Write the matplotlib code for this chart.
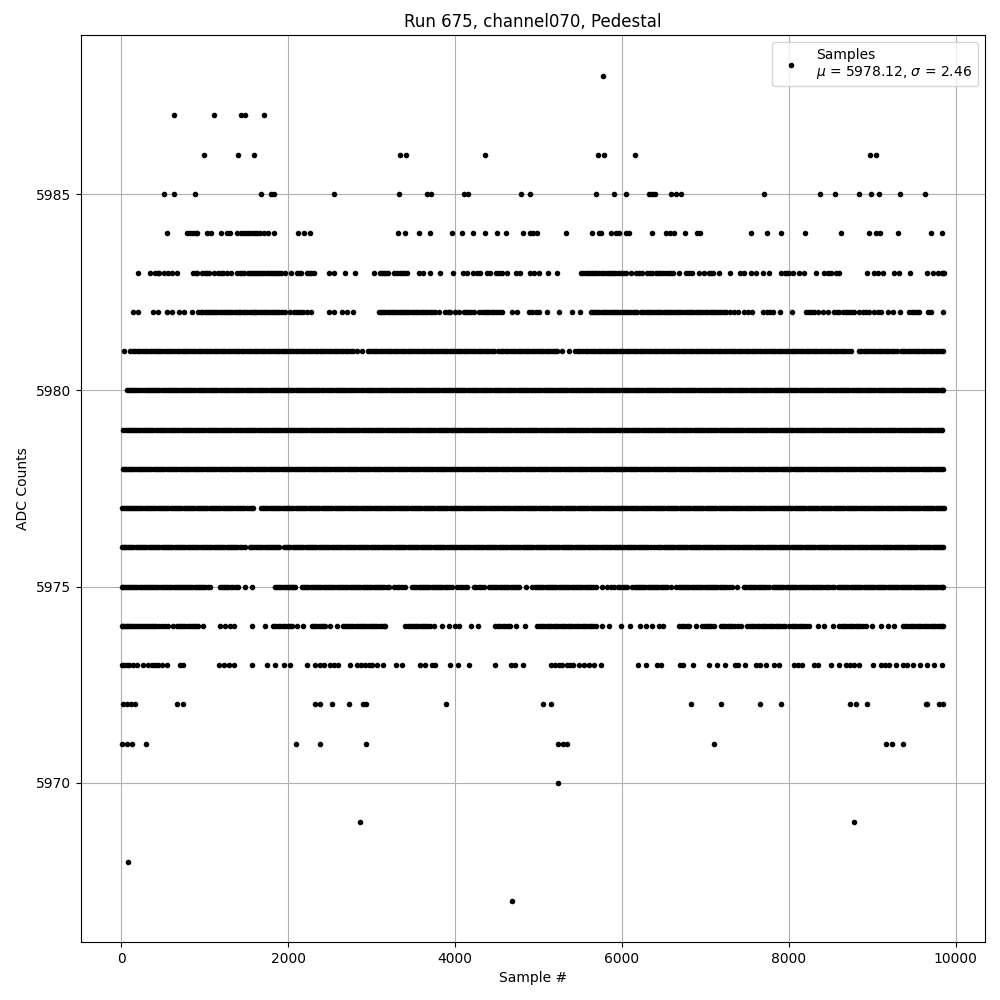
#!/usr/bin/env python3
"""Pedestal scatter for run 675, channel070. Sample numbers read off the plot, one list per ADC level."""
import matplotlib
matplotlib.use("Agg")
import matplotlib.pyplot as plt

s_5988 = [5772]
s_5987 = [636, 1116, 1432, 1476, 1704]
s_5986 = [996, 1404, 1584, 3336, 3408, 4356, 5712, 5784, 6156, 8976, 9048]
s_5985 = [516, 636, 884, 1668, 1788, 1824, 2544, 3324, 3664, 3712, 4104, 4152, 4788, 4896,
          5688, 5904, 6048, 6324, 6364, 6400, 6588, 6648, 6708, 7704, 8376, 8556, 8844,
          8988, 9084, 9336, 9636]
s_5984 = [552, 792, 824, 864, 890, 912, 1024, 1072, 1200, 1272, 1300, 1392, 1432, 1472, 1500, 1524,
          1564, 1600, 1624, 1664, 1704, 1752, 1832, 2112, 2184, 2264, 3312, 3396, 3564, 3696,
          3960, 4080, 4212, 4356, 4504, 4608, 4812, 4896, 4936, 4984, 5328, 5640, 5724, 5752,
          5868, 5928, 5964, 6048, 6084, 6360, 6528, 6576, 6624, 6756, 6904, 6936, 7548, 7740,
          7908, 8196, 8628, 8964, 9048, 9096, 9312, 9708, 9840]
s_5983 = [204, 348, 408, 440, 456, 516, 564, 612, 664, 864, 890, 912, 964, 1004, 1030, 1056, 1112,
          1164, 1190, 1216, 1264, 1312, 1392, 1420, 1450, 1472, 1512, 1540, 1564, 1590, 1616,
          1640, 1664, 1690, 1712, 1740, 1764, 1790, 1816, 1840, 1864, 1890, 1912, 1964, 2036,
          2104, 2128, 2152, 2224, 2250, 2272, 2304, 2484, 2544, 2676, 2796, 3024, 3096, 3120, 3144,
          3170, 3192, 3264, 3300, 3336, 3360, 3384, 3424, 3564, 3616, 3696, 3816, 3972, 4092,
          4144, 4216, 4264, 4296, 4384, 4424, 4488, 4530, 4564, 4624, 4724, 4776, 4896, 4944,
          5004, 5112, 5220, 5504, 5534, 5564, 5590, 5616, 5640, 5664, 5690, 5724, 5764, 5790, 5816,
          5840, 5864, 5890, 5912, 5952, 5984, 6014, 6044, 6104, 6164, 6200, 6244, 6304, 6334,
          6364, 6404, 6430, 6456, 6490, 6524, 6564, 6590, 6616, 6684, 6764, 6800, 6844, 6924,
          6984, 7044, 7070, 7096, 7164, 7296, 7416, 7464, 7544, 7604, 7684, 7764, 7904, 7952,
          7980, 8004, 8044, 8124, 8176, 8328, 8416, 8464, 8504, 8564, 8604, 8940, 9024, 9072,
          9124, 9256, 9324, 9456, 9652, 9724, 9784, 9835, 9850, 9858]
s_5982 = [144, 204, 384, 444, 552, 612, 696, 752, 844, 924, 950, 972, 1000, 1028, 1050, 1076, 1100,
          1124, 1152, 1180, 1205, 1232, 1255, 1276, 1304, 1330, 1357, 1384, 1405, 1428, 1455,
          1480, 1510, 1536, 1560, 1584, 1605, 1630, 1660, 1688, 1712, 1736, 1762, 1788, 1816,
          1844, 1868, 1892, 1930, 1964, 2024, 2064, 2104, 2140, 2176, 2224, 2276, 2492, 2552,
          2644, 2704, 2772, 3084, 3110, 3136, 3164, 3192, 3216, 3240, 3268, 3296, 3322, 3348,
          3376, 3404, 3428, 3452, 3480, 3510, 3535, 3560, 3588, 3616, 3642, 3668, 3696, 3724,
          3764, 3812, 3884, 3914, 3944, 4004, 4044, 4104, 4132, 4160, 4192, 4224, 4284, 4324,
          4354, 4384, 4412, 4440, 4472, 4504, 4534, 4564, 4684, 4744, 4884, 4924, 4964, 5004,
          5104, 5244, 5404, 5496, 5624, 5652, 5680, 5704, 5728, 5756, 5784, 5810, 5836, 5864,
          5892, 5916, 5940, 5970, 6000, 6024, 6048, 6074, 6100, 6126, 6152, 6184, 6224, 6254,
          6284, 6308, 6332, 6362, 6392, 6416, 6440, 6470, 6500, 6524, 6548, 6576, 6604, 6630,
          6656, 6680, 6704, 6744, 6774, 6804, 6828, 6852, 6882, 6912, 6938, 6964, 6994, 7024,
          7050, 7076, 7104, 7132, 7162, 7192, 7218, 7244, 7296, 7344, 7392, 7464, 7514, 7564,
          7684, 7736, 7770, 7804, 7896, 8032, 8204, 8236, 8268, 8306, 8344, 8404, 8464, 8544,
          8572, 8600, 8644, 8684, 8712, 8740, 8784, 8844, 8884, 8924, 8964, 9024, 9064, 9104,
          9184, 9244, 9336, 9444, 9474, 9504, 9534, 9564, 9664, 9704, 9852]
s_5981 = [32, 104, 134, 168, 198, 228, 256, 284, 312, 340, 370, 400, 426, 452, 480, 508, 544,
          576, 600, 628, 662, 696, 722, 748, 776, 804, 832, 860, 888, 916, 944, 972, 998, 1024,
          1052, 1080, 1108, 1136, 1164, 1192, 1220, 1248, 1276, 1304, 1332, 1360, 1388, 1416,
          1444, 1472, 1500, 1528, 1556, 1584, 1612, 1640, 1668, 1696, 1724, 1752, 1780, 1808,
          1836, 1864, 1892, 1920, 1948, 1976, 2004, 2032, 2060, 2088, 2118, 2148, 2176, 2204,
          2232, 2260, 2288, 2316, 2346, 2376, 2404, 2432, 2460, 2488, 2516, 2544, 2572, 2600,
          2630, 2660, 2688, 2716, 2748, 2780, 2830, 2880, 2960, 2986, 3012, 3040, 3068, 3096,
          3124, 3152, 3180, 3208, 3236, 3264, 3292, 3320, 3348, 3376, 3404, 3432, 3460, 3488,
          3516, 3544, 3572, 3600, 3628, 3656, 3684, 3712, 3740, 3768, 3796, 3824, 3852, 3880,
          3908, 3936, 3964, 3992, 4020, 4048, 4076, 4104, 4132, 4160, 4188, 4216, 4244, 4272,
          4300, 4328, 4356, 4384, 4412, 4440, 4468, 4510, 4548, 4578, 4610, 4638, 4666, 4694,
          4722, 4750, 4778, 4806, 4834, 4862, 4890, 4918, 4946, 4974, 5002, 5030, 5058, 5086,
          5114, 5142, 5170, 5198, 5226, 5284, 5364, 5436, 5470, 5500, 5532, 5564, 5594, 5624,
          5652, 5680, 5708, 5736, 5764, 5792, 5820, 5848, 5876, 5904, 5932, 5960, 5988, 6016,
          6044, 6072, 6100, 6128, 6156, 6184, 6212, 6240, 6268, 6296, 6324, 6352, 6380, 6408,
          6436, 6464, 6492, 6520, 6548, 6576, 6604, 6632, 6660, 6688, 6716, 6744, 6772, 6800,
          6828, 6856, 6884, 6912, 6940, 6968, 6996, 7024, 7052, 7080, 7108, 7136, 7164, 7192,
          7220, 7248, 7276, 7304, 7332, 7360, 7388, 7416, 7444, 7472, 7500, 7528, 7556, 7584,
          7612, 7640, 7668, 7696, 7724, 7752, 7780, 7808, 7836, 7864, 7892, 7920, 7948, 7976,
          8004, 8032, 8060, 8088, 8116, 8144, 8172, 8200, 8228, 8256, 8284, 8312, 8340, 8368,
          8396, 8424, 8452, 8480, 8508, 8536, 8564, 8592, 8620, 8648, 8676, 8704, 8744, 8840,
          8868, 8896, 8924, 8952, 8980, 9008, 9036, 9064, 9092, 9120, 9148, 9176, 9204, 9232,
          9264, 9300, 9340, 9368, 9396, 9424, 9452, 9480, 9508, 9536, 9564, 9592, 9620, 9648,
          9676, 9704, 9732, 9760, 9788, 9820, 9850]
s_5980 = [72, 96, 116, 138, 160, 188, 216, 248, 280, 306, 332, 356, 380, 404, 428, 456, 484, 508,
          532, 558, 584, 608, 632, 658, 684, 710, 736, 762, 788, 814, 840, 864, 888, 916, 944,
          968, 992, 1020, 1048, 1072, 1096, 1124, 1152, 1178, 1204, 1230, 1256, 1282, 1308,
          1334, 1360, 1386, 1412, 1438, 1464, 1490, 1516, 1542, 1568, 1594, 1620, 1646, 1672,
          1698, 1724, 1750, 1776, 1802, 1828, 1854, 1880, 1906, 1932, 1958, 1984, 2010, 2036,
          2062, 2088, 2114, 2140, 2166, 2192, 2218, 2244, 2270, 2296, 2322, 2348, 2374, 2400,
          2426, 2462, 2490, 2516, 2542, 2568, 2594, 2620, 2646, 2672, 2698, 2724, 2750, 2776,
          2802, 2840, 2874, 2902, 2928, 2954, 2980, 3006, 3032, 3058, 3084, 3110, 3136, 3162,
          3188, 3214, 3240, 3266, 3292, 3318, 3344, 3370, 3396, 3422, 3448, 3474, 3500, 3526,
          3552, 3578, 3604, 3630, 3656, 3682, 3708, 3734, 3760, 3786, 3812, 3838, 3864, 3890,
          3916, 3942, 3968, 3994, 4020, 4046, 4072, 4098, 4124, 4150, 4176, 4202, 4228, 4254,
          4280, 4306, 4332, 4358, 4384, 4410, 4436, 4462, 4488, 4514, 4540, 4566, 4592, 4618,
          4644, 4670, 4696, 4722, 4748, 4774, 4800, 4826, 4852, 4878, 4904, 4930, 4956, 4982,
          5008, 5034, 5060, 5086, 5112, 5138, 5164, 5190, 5216, 5242, 5268, 5294, 5320, 5346,
          5372, 5398, 5424, 5450, 5476, 5502, 5528, 5554, 5580, 5606, 5632, 5658, 5684, 5710,
          5736, 5762, 5788, 5814, 5840, 5866, 5892, 5918, 5944, 5970, 5996, 6022, 6048, 6074,
          6100, 6126, 6152, 6178, 6204, 6230, 6256, 6282, 6308, 6334, 6360, 6386, 6412, 6438,
          6464, 6490, 6516, 6542, 6568, 6594, 6620, 6646, 6672, 6698, 6724, 6750, 6776, 6802,
          6828, 6854, 6880, 6906, 6932, 6958, 6984, 7010, 7036, 7062, 7088, 7114, 7140, 7166,
          7192, 7218, 7244, 7270, 7296, 7322, 7348, 7374, 7400, 7426, 7452, 7478, 7504, 7530,
          7556, 7582, 7608, 7634, 7660, 7686, 7712, 7738, 7764, 7790, 7816, 7842, 7868, 7894,
          7920, 7946, 7972, 7998, 8024, 8050, 8076, 8102, 8128, 8154, 8180, 8206, 8232, 8258,
          8284, 8310, 8336, 8362, 8388, 8414, 8440, 8466, 8492, 8518, 8544, 8570, 8596, 8622,
          8648, 8674, 8700, 8726, 8752, 8778, 8804, 8830, 8856, 8882, 8908, 8934, 8960, 8986,
          9012, 9038, 9064, 9090, 9116, 9142, 9168, 9194, 9220, 9246, 9272, 9298, 9324, 9350,
          9376, 9402, 9428, 9454, 9480, 9506, 9532, 9558, 9584, 9610, 9636, 9662, 9688, 9714,
          9740, 9766, 9792, 9818, 9840, 9852]
s_5979 = [24, 50, 76, 100, 124, 150, 176, 202, 228, 254, 280, 306, 332, 358, 384, 410, 436, 462,
          488, 514, 540, 566, 592, 618, 644, 670, 696, 722, 748, 774, 800, 826, 852, 878, 904,
          930, 956, 982, 1008, 1034, 1060, 1086, 1112, 1138, 1164, 1190, 1216, 1242, 1268, 1294,
          1320, 1346, 1372, 1398, 1424, 1450, 1476, 1502, 1528, 1554, 1580, 1606, 1632, 1658,
          1684, 1710, 1736, 1762, 1788, 1814, 1840, 1866, 1892, 1918, 1944, 1970, 1996, 2022,
          2048, 2074, 2100, 2126, 2152, 2178, 2204, 2230, 2256, 2282, 2308, 2334, 2360, 2386,
          2412, 2438, 2464, 2490, 2516, 2542, 2568, 2594, 2620, 2646, 2672, 2698, 2724, 2750,
          2776, 2802, 2828, 2854, 2880, 2906, 2932, 2958, 2984, 3010, 3036, 3062, 3088, 3114,
          3140, 3166, 3192, 3218, 3244, 3270, 3296, 3322, 3348, 3374, 3400, 3426, 3452, 3478,
          3504, 3530, 3556, 3582, 3608, 3634, 3660, 3686, 3712, 3738, 3764, 3790, 3816, 3842,
          3868, 3894, 3920, 3946, 3972, 3998, 4024, 4050, 4076, 4102, 4128, 4154, 4180, 4206,
          4232, 4258, 4284, 4310, 4336, 4362, 4388, 4414, 4440, 4466, 4492, 4518, 4544, 4570,
          4596, 4622, 4648, 4674, 4700, 4726, 4752, 4778, 4804, 4830, 4856, 4882, 4908, 4934,
          4960, 4986, 5012, 5038, 5064, 5090, 5116, 5142, 5168, 5194, 5220, 5246, 5272, 5298,
          5324, 5350, 5376, 5402, 5428, 5454, 5480, 5506, 5532, 5558, 5584, 5610, 5636, 5662,
          5688, 5714, 5740, 5766, 5792, 5818, 5844, 5870, 5896, 5922, 5948, 5974, 6000, 6026,
          6052, 6078, 6104, 6130, 6156, 6182, 6208, 6234, 6260, 6286, 6312, 6338, 6364, 6390,
          6416, 6442, 6468, 6494, 6520, 6546, 6572, 6598, 6624, 6650, 6676, 6702, 6728, 6754,
          6780, 6806, 6832, 6858, 6884, 6910, 6936, 6962, 6988, 7014, 7040, 7066, 7092, 7118,
          7144, 7170, 7196, 7222, 7248, 7274, 7300, 7326, 7352, 7378, 7404, 7430, 7456, 7482,
          7508, 7534, 7560, 7586, 7612, 7638, 7664, 7690, 7716, 7742, 7768, 7794, 7820, 7846,
          7872, 7898, 7924, 7950, 7976, 8002, 8028, 8054, 8080, 8106, 8132, 8158, 8184, 8210,
          8236, 8262, 8288, 8314, 8340, 8366, 8392, 8418, 8444, 8470, 8496, 8522, 8548, 8574,
          8600, 8626, 8652, 8678, 8704, 8730, 8756, 8782, 8808, 8834, 8860, 8886, 8912, 8938,
          8964, 8990, 9016, 9042, 9068, 9094, 9120, 9146, 9172, 9198, 9224, 9250, 9276, 9302,
          9328, 9354, 9380, 9406, 9432, 9458, 9484, 9510, 9536, 9562, 9588, 9614, 9640, 9666,
          9692, 9718, 9744, 9770, 9796, 9820, 9840]
s_5978 = [16, 38, 60, 84, 108, 132, 156, 182, 208, 232, 256, 282, 308, 334, 360, 386, 412, 438,
          464, 490, 516, 542, 568, 594, 620, 646, 672, 698, 724, 750, 776, 802, 828, 854, 880,
          906, 932, 958, 984, 1010, 1036, 1062, 1088, 1114, 1140, 1166, 1192, 1218, 1244, 1270,
          1296, 1322, 1348, 1374, 1400, 1426, 1452, 1478, 1504, 1530, 1556, 1582, 1608, 1634,
          1660, 1686, 1712, 1738, 1764, 1790, 1816, 1842, 1868, 1894, 1920, 1946, 1972, 1998,
          2024, 2050, 2076, 2102, 2128, 2154, 2180, 2206, 2232, 2258, 2284, 2310, 2336, 2362,
          2388, 2414, 2440, 2466, 2492, 2518, 2544, 2570, 2596, 2622, 2648, 2674, 2700, 2726,
          2752, 2778, 2804, 2830, 2856, 2882, 2908, 2934, 2960, 2986, 3012, 3038, 3064, 3090,
          3116, 3142, 3168, 3194, 3220, 3246, 3272, 3298, 3324, 3350, 3376, 3402, 3428, 3454,
          3480, 3506, 3532, 3558, 3584, 3610, 3636, 3662, 3688, 3714, 3740, 3766, 3792, 3818,
          3844, 3870, 3896, 3922, 3948, 3974, 4000, 4026, 4052, 4078, 4104, 4130, 4156, 4182,
          4208, 4234, 4260, 4286, 4312, 4338, 4364, 4390, 4416, 4442, 4468, 4494, 4520, 4546,
          4572, 4598, 4624, 4650, 4676, 4702, 4728, 4754, 4780, 4806, 4832, 4858, 4884, 4910,
          4936, 4962, 4988, 5014, 5040, 5066, 5092, 5118, 5144, 5170, 5196, 5222, 5248, 5274,
          5300, 5326, 5352, 5378, 5404, 5430, 5456, 5482, 5508, 5534, 5560, 5586, 5612, 5638,
          5664, 5690, 5716, 5742, 5768, 5794, 5820, 5846, 5872, 5898, 5924, 5950, 5976, 6002,
          6028, 6054, 6080, 6106, 6132, 6158, 6184, 6210, 6236, 6262, 6288, 6314, 6340, 6366,
          6392, 6418, 6444, 6470, 6496, 6522, 6548, 6574, 6600, 6626, 6652, 6678, 6704, 6730,
          6756, 6782, 6808, 6834, 6860, 6886, 6912, 6938, 6964, 6990, 7016, 7042, 7068, 7094,
          7120, 7146, 7172, 7198, 7224, 7250, 7276, 7302, 7328, 7354, 7380, 7406, 7432, 7458,
          7484, 7510, 7536, 7562, 7588, 7614, 7640, 7666, 7692, 7718, 7744, 7770, 7796, 7822,
          7848, 7874, 7900, 7926, 7952, 7978, 8004, 8030, 8056, 8082, 8108, 8134, 8160, 8186,
          8212, 8238, 8264, 8290, 8316, 8342, 8368, 8394, 8420, 8446, 8472, 8498, 8524, 8550,
          8576, 8602, 8628, 8654, 8680, 8706, 8732, 8758, 8784, 8810, 8836, 8862, 8888, 8914,
          8940, 8966, 8992, 9018, 9044, 9070, 9096, 9122, 9148, 9174, 9200, 9226, 9252, 9278,
          9304, 9330, 9356, 9382, 9408, 9434, 9460, 9486, 9512, 9538, 9564, 9590, 9616, 9642,
          9668, 9694, 9720, 9746, 9772, 9798, 9824, 9850]
s_5977 = [10, 30, 52, 76, 100, 124, 148, 174, 200, 226, 252, 278, 304, 330, 356, 382, 408, 434,
          460, 486, 512, 538, 564, 590, 616, 642, 668, 694, 720, 746, 772, 798, 824, 850, 876,
          902, 928, 954, 980, 1006, 1032, 1058, 1084, 1110, 1136, 1162, 1188, 1214, 1240, 1266,
          1292, 1318, 1344, 1370, 1396, 1422, 1448, 1474, 1500, 1524, 1548, 1576, 1672, 1698,
          1724, 1750, 1776, 1802, 1828, 1854, 1880, 1906, 1932, 1958, 1984, 2010, 2036, 2062,
          2088, 2114, 2140, 2166, 2192, 2218, 2244, 2270, 2296, 2322, 2348, 2374, 2400, 2426,
          2452, 2478, 2504, 2530, 2556, 2582, 2608, 2634, 2660, 2686, 2712, 2738, 2764, 2790,
          2816, 2842, 2868, 2894, 2920, 2946, 2972, 2998, 3024, 3050, 3076, 3102, 3128, 3154,
          3180, 3206, 3232, 3258, 3284, 3310, 3336, 3362, 3388, 3414, 3440, 3466, 3492, 3518,
          3544, 3570, 3596, 3622, 3648, 3674, 3700, 3726, 3752, 3778, 3804, 3830, 3856, 3882,
          3908, 3934, 3960, 3986, 4012, 4038, 4064, 4090, 4116, 4142, 4168, 4194, 4220, 4246,
          4272, 4298, 4324, 4350, 4376, 4402, 4428, 4454, 4480, 4506, 4532, 4558, 4584, 4610,
          4636, 4662, 4688, 4714, 4740, 4766, 4792, 4818, 4844, 4870, 4896, 4922, 4948, 4974,
          5000, 5026, 5052, 5078, 5104, 5130, 5156, 5182, 5208, 5234, 5260, 5286, 5312, 5338,
          5364, 5390, 5416, 5442, 5468, 5494, 5520, 5546, 5572, 5598, 5624, 5650, 5676, 5702,
          5728, 5754, 5780, 5806, 5832, 5858, 5884, 5910, 5936, 5962, 5988, 6014, 6040, 6066,
          6092, 6118, 6144, 6170, 6196, 6222, 6248, 6274, 6300, 6326, 6352, 6378, 6404, 6430,
          6456, 6482, 6508, 6534, 6560, 6586, 6612, 6638, 6664, 6690, 6716, 6742, 6768, 6794,
          6820, 6846, 6872, 6898, 6924, 6950, 6976, 7002, 7028, 7054, 7080, 7106, 7132, 7158,
          7184, 7210, 7236, 7262, 7288, 7314, 7340, 7366, 7392, 7418, 7444, 7470, 7496, 7522,
          7548, 7574, 7600, 7626, 7652, 7678, 7704, 7730, 7756, 7782, 7808, 7834, 7860, 7886,
          7912, 7938, 7964, 7990, 8016, 8042, 8068, 8094, 8120, 8146, 8172, 8198, 8224, 8250,
          8276, 8302, 8328, 8354, 8380, 8406, 8432, 8458, 8484, 8510, 8536, 8562, 8588, 8614,
          8640, 8666, 8692, 8718, 8744, 8770, 8796, 8822, 8848, 8874, 8900, 8926, 8952, 8978,
          9004, 9030, 9056, 9082, 9108, 9134, 9160, 9186, 9212, 9238, 9264, 9290, 9316, 9342,
          9368, 9394, 9420, 9446, 9472, 9498, 9524, 9550, 9576, 9602, 9628, 9654, 9680, 9706,
          9732, 9758, 9784, 9810, 9836, 9858]
s_5976 = [9, 26, 48, 72, 96, 120, 144, 170, 196, 222, 248, 274, 300, 326, 352, 378, 404, 430,
          456, 482, 508, 534, 560, 586, 612, 638, 664, 690, 716, 742, 768, 794, 820, 846, 872,
          898, 924, 950, 976, 1002, 1028, 1054, 1080, 1106, 1132, 1158, 1184, 1210, 1236, 1262,
          1288, 1314, 1340, 1366, 1392, 1418, 1444, 1484, 1540, 1564, 1588, 1612, 1636, 1660,
          1688, 1716, 1740, 1764, 1788, 1812, 1836, 1860, 1884, 1948, 1974, 2000, 2026, 2052,
          2078, 2104, 2130, 2156, 2182, 2208, 2234, 2260, 2286, 2312, 2338, 2364, 2390, 2416,
          2442, 2468, 2494, 2520, 2546, 2572, 2598, 2624, 2650, 2676, 2702, 2728, 2754, 2780,
          2806, 2832, 2858, 2884, 2910, 2936, 2962, 2988, 3014, 3040, 3066, 3092, 3118, 3144,
          3170, 3196, 3222, 3248, 3274, 3300, 3326, 3352, 3378, 3404, 3430, 3456, 3482, 3508,
          3534, 3560, 3586, 3612, 3638, 3664, 3690, 3716, 3742, 3768, 3794, 3820, 3846, 3872,
          3898, 3924, 3950, 3976, 4002, 4028, 4054, 4080, 4106, 4132, 4158, 4184, 4210, 4236,
          4262, 4288, 4314, 4340, 4366, 4392, 4418, 4444, 4470, 4496, 4522, 4548, 4574, 4600,
          4626, 4652, 4678, 4704, 4730, 4756, 4782, 4808, 4834, 4860, 4886, 4912, 4938, 4964,
          4990, 5016, 5042, 5068, 5094, 5120, 5146, 5172, 5198, 5224, 5250, 5276, 5302, 5328,
          5354, 5380, 5406, 5432, 5458, 5484, 5510, 5536, 5562, 5588, 5614, 5640, 5666, 5692,
          5718, 5744, 5770, 5796, 5822, 5848, 5874, 5900, 5926, 5952, 5978, 6004, 6030, 6056,
          6082, 6108, 6134, 6160, 6186, 6212, 6238, 6264, 6290, 6316, 6342, 6380, 6420, 6446,
          6472, 6498, 6524, 6550, 6576, 6602, 6628, 6654, 6680, 6706, 6732, 6758, 6784, 6810,
          6836, 6862, 6888, 6914, 6940, 6966, 6992, 7018, 7044, 7070, 7096, 7122, 7148, 7174,
          7200, 7226, 7252, 7278, 7304, 7330, 7356, 7382, 7408, 7434, 7460, 7486, 7512, 7538,
          7564, 7590, 7616, 7642, 7668, 7694, 7720, 7746, 7772, 7798, 7824, 7850, 7876, 7902,
          7928, 7954, 7980, 8006, 8032, 8058, 8084, 8110, 8136, 8162, 8188, 8214, 8240, 8266,
          8292, 8318, 8344, 8370, 8396, 8422, 8448, 8474, 8500, 8526, 8552, 8578, 8604, 8630,
          8656, 8682, 8708, 8734, 8760, 8786, 8812, 8838, 8864, 8890, 8916, 8942, 8968, 8994,
          9020, 9046, 9072, 9098, 9124, 9150, 9176, 9202, 9228, 9254, 9280, 9306, 9332, 9358,
          9384, 9410, 9436, 9462, 9488, 9514, 9540, 9566, 9592, 9618, 9644, 9670, 9696, 9722,
          9748, 9774, 9800, 9826, 9850]
s_5975 = [9, 24, 44, 68, 92, 116, 140, 166, 192, 218, 244, 268, 292, 318, 344, 368, 392, 418, 444,
          472, 500, 524, 548, 574, 600, 626, 652, 676, 700, 726, 752, 778, 804, 828, 852, 878,
          904, 930, 956, 982, 1008, 1036, 1064, 1184, 1210, 1236, 1260, 1284, 1312, 1340, 1372,
          1404, 1484, 1564, 1844, 1868, 1892, 1918, 1944, 1968, 1992, 2016, 2040, 2062, 2084,
          2164, 2190, 2216, 2242, 2268, 2294, 2320, 2346, 2372, 2398, 2424, 2450, 2476, 2502,
          2528, 2554, 2580, 2606, 2632, 2658, 2684, 2710, 2736, 2762, 2788, 2814, 2840, 2866,
          2892, 2918, 2944, 2970, 2996, 3022, 3048, 3074, 3100, 3126, 3152, 3178, 3204, 3264,
          3300, 3332, 3368, 3404, 3484, 3510, 3536, 3562, 3588, 3614, 3640, 3666, 3692, 3718,
          3744, 3770, 3796, 3822, 3848, 3874, 3900, 3932, 3964, 4024, 4054, 4084, 4114, 4144,
          4224, 4254, 4284, 4314, 4344, 4404, 4430, 4456, 4482, 4508, 4534, 4560, 4586, 4612,
          4638, 4664, 4690, 4716, 4740, 4764, 4844, 4924, 4952, 4980, 5006, 5032, 5058, 5084,
          5110, 5136, 5162, 5188, 5214, 5240, 5266, 5292, 5318, 5344, 5370, 5396, 5422, 5448,
          5474, 5500, 5526, 5552, 5578, 5604, 5630, 5656, 5684, 5764, 5824, 5864, 5904, 5952,
          5980, 6008, 6036, 6064, 6124, 6150, 6176, 6202, 6228, 6254, 6280, 6306, 6332, 6358,
          6384, 6410, 6436, 6462, 6488, 6516, 6544, 6584, 6652, 6678, 6704, 6730, 6756, 6782,
          6808, 6834, 6860, 6886, 6912, 6938, 6964, 6990, 7016, 7042, 7068, 7092, 7116, 7144,
          7170, 7196, 7222, 7248, 7286, 7324, 7384, 7464, 7492, 7520, 7546, 7572, 7598, 7624,
          7650, 7676, 7702, 7728, 7764, 7804, 7830, 7856, 7882, 7908, 7934, 7960, 7986, 8012,
          8038, 8064, 8090, 8116, 8142, 8168, 8194, 8220, 8246, 8272, 8298, 8324, 8350, 8376,
          8402, 8428, 8454, 8480, 8512, 8544, 8584, 8610, 8636, 8662, 8688, 8714, 8740, 8766,
          8792, 8818, 8844, 8870, 8896, 8922, 8948, 8974, 9000, 9026, 9052, 9078, 9104, 9130,
          9156, 9182, 9208, 9234, 9260, 9286, 9312, 9338, 9364, 9390, 9416, 9442, 9468, 9494,
          9520, 9546, 9572, 9598, 9624, 9650, 9676, 9702, 9728, 9754, 9780, 9806, 9832, 9850]
s_5974 = [9, 22, 40, 62, 84, 108, 132, 156, 180, 204, 228, 252, 276, 300, 324, 348, 372, 396,
          420, 452, 484, 524, 564, 624, 664, 690, 716, 742, 768, 794, 820, 846, 872, 898, 924,
          984, 1184, 1244, 1304, 1352, 1560, 1724, 1816, 1846, 1876, 1906, 1936, 1964, 1992,
          2018, 2044, 2104, 2172, 2284, 2310, 2336, 2364, 2392, 2418, 2444, 2504, 2584, 2652,
          2678, 2704, 2730, 2756, 2782, 2808, 2834, 2860, 2886, 2912, 2938, 2964, 2990, 3016,
          3042, 3068, 3094, 3120, 3142, 3164, 3404, 3430, 3456, 3482, 3508, 3534, 3560, 3586,
          3612, 3638, 3664, 3704, 3744, 3844, 3928, 4004, 4044, 4196, 4272, 4476, 4510, 4544,
          4572, 4600, 4628, 4656, 4724, 4832, 4984, 5012, 5040, 5068, 5096, 5124, 5152, 5180,
          5208, 5236, 5264, 5292, 5320, 5348, 5376, 5404, 5432, 5460, 5488, 5516, 5544, 5572,
          5600, 5624, 5648, 5684, 5764, 5844, 5984, 6096, 6216, 6284, 6360, 6444, 6496, 6684,
          6714, 6744, 6774, 6804, 6884, 6964, 6990, 7016, 7042, 7068, 7104, 7184, 7212, 7240,
          7268, 7296, 7324, 7352, 7388, 7424, 7504, 7532, 7560, 7588, 7616, 7644, 7672, 7700,
          7728, 7756, 7784, 7812, 7840, 7868, 7896, 7924, 7952, 8004, 8032, 8060, 8088, 8116,
          8144, 8172, 8208, 8244, 8352, 8424, 8524, 8604, 8632, 8660, 8688, 8716, 8744, 8772,
          8800, 8828, 8856, 8884, 8924, 9000, 9104, 9184, 9264, 9364, 9392, 9420, 9448, 9476,
          9504, 9532, 9560, 9588, 9616, 9644, 9672, 9700, 9728, 9756, 9784, 9812, 9838, 9850]
s_5973 = [9, 32, 64, 96, 144, 192, 256, 324, 364, 404, 444, 484, 552, 704, 744, 1176, 1236,
          1296, 1352, 1560, 1744, 1844, 1944, 2024, 2220, 2316, 2384, 2424, 2504, 2552, 2592,
          2736, 2824, 2872, 2924, 2964, 3004, 3064, 3136, 3296, 3364, 3584, 3644, 3724, 3764,
          3944, 4032, 4164, 4476, 4664, 4712, 4812, 5144, 5192, 5244, 5284, 5336, 5376, 5416,
          5484, 5544, 5604, 5664, 5744, 6196, 6292, 6424, 6472, 6692, 6728, 6852, 7044, 7140,
          7240, 7352, 7392, 7476, 7604, 7656, 7728, 7824, 7884, 8064, 8104, 8160, 8296, 8344,
          8508, 8604, 8684, 8736, 8784, 8836, 9012, 9104, 9152, 9204, 9280, 9364, 9416, 9484,
          9576, 9656, 9744, 9832]
s_5972 = [24, 64, 112, 164, 672, 736, 2316, 2376, 2524, 2724, 2892, 2936, 3888, 5052, 5148,
          6828, 7188, 7656, 7908, 8736, 8804, 8940, 9648, 9660, 9804, 9844]
s_5971 = [12, 72, 124, 300, 2088, 2376, 2928, 5232, 5292, 5344, 7100, 9164, 9240, 9372]
s_5970 = [5230]
s_5969 = [2862, 8775]
s_5968 = [80]
s_5967 = [4682]

levels = list(range(5967, 5989))
samples_by_level = [s_5967, s_5968, s_5969, s_5970, s_5971, s_5972, s_5973, s_5974,
                    s_5975, s_5976, s_5977, s_5978, s_5979, s_5980, s_5981, s_5982,
                    s_5983, s_5984, s_5985, s_5986, s_5987, s_5988]

x = []
y = []
for level, samples in zip(levels, samples_by_level):
    x.extend(samples)
    y.extend([level] * len(samples))

fig, ax = plt.subplots(figsize=(10, 10), dpi=100)
ax.plot(x, y, "k.", label="Samples\n$\\mu$ = 5978.12, $\\sigma$ = 2.46")
ax.set_title("Run 675, channel070, Pedestal")
ax.set_xlabel("Sample #")
ax.set_ylabel("ADC Counts")
ax.grid(True)
ax.legend(loc="upper right")

fig.subplots_adjust(left=0.081, right=0.985, top=0.965, bottom=0.058)
fig.savefig("out.png", dpi=100)
